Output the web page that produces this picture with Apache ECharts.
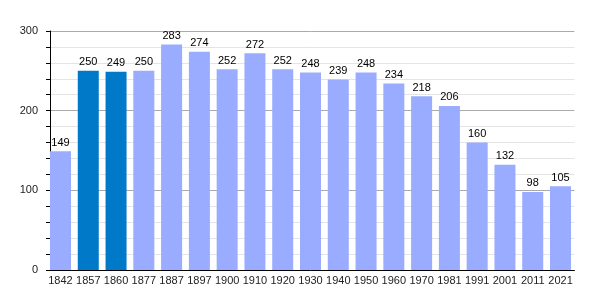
<!DOCTYPE html>
<html><head><meta charset="utf-8">
<script src="https://cdn.jsdelivr.net/npm/echarts@6/dist/echarts.min.js"></script>
<style>html,body{margin:0;padding:0;background:#fff}#c{width:600px;height:300px}</style>
</head><body><div id="c"></div>
<script>
const years = ['1842','1857','1860','1877','1887','1897','1900','1910','1920','1930','1940','1950','1960','1970','1981','1991','2001','2011','2021'];
const population = [149,250,249,250,283,274,252,272,252,248,239,248,234,218,206,160,132,98,105];
const highlighted = ['1857','1860'];
const yTicks = [0,100,200,300];

const chart = echarts.init(document.getElementById('c'));
chart.setOption({
  animation:false,
  grid:{left:46.6,right:25.6,top:31,bottom:30},
  xAxis:{type:'category',data:years,
    axisLine:{lineStyle:{color:'#000',width:1}},
    axisTick:{show:false},
    axisLabel:{interval:0,hideOverlap:false,color:'#222',fontSize:11,fontFamily:'Liberation Sans',margin:5}},
  yAxis:{type:'value',min:yTicks[0],max:yTicks[yTicks.length-1],interval:100,offset:-3.4,
    axisLine:{show:true,lineStyle:{color:'#000'}},
    axisTick:{show:true,length:4,lineStyle:{color:'#000'}},
    minorTick:{show:true,splitNumber:5,length:4,lineStyle:{color:'#000'}},
    splitLine:{lineStyle:{color:'#aaa'}},
    minorSplitLine:{show:true,lineStyle:{color:'#e4e4e4'}},
    axisLabel:{color:'#222',fontSize:11,fontFamily:'Liberation Sans',margin:12}},
  series:[{type:'bar',barWidth:21,
    data:population.map((v,i)=>({value:v,itemStyle:{color:highlighted.includes(years[i])?'#0079c9':'#99acff'}})),
    label:{show:true,position:'top',distance:3,color:'#000',fontSize:11,fontFamily:'Liberation Sans'}}]
});
</script></body></html>
